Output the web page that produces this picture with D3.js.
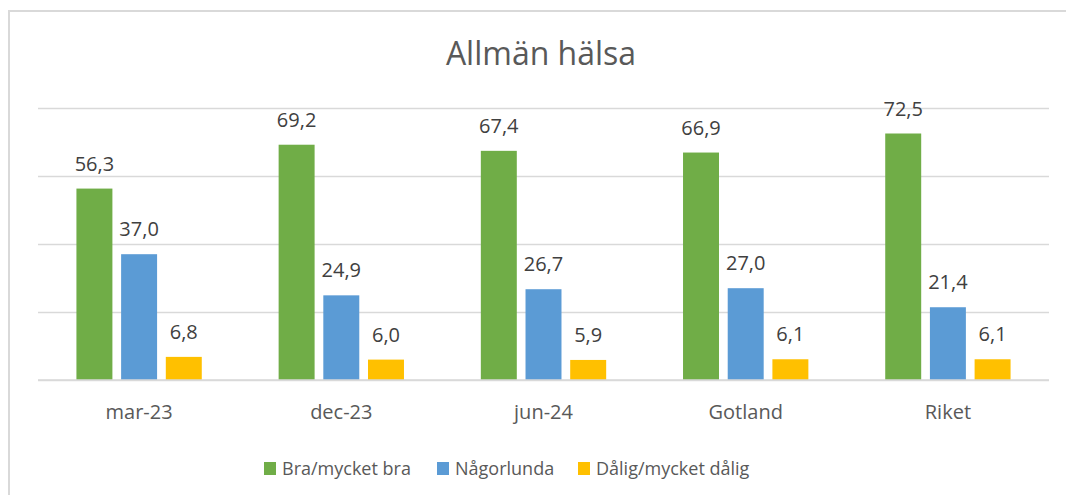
<!DOCTYPE html>
<html>
<head>
<meta charset="utf-8">
<script src="https://cdn.jsdelivr.net/npm/d3@7"></script>
<style>
  body { margin: 0; background: #fff; }
  text { font-family: "Open Sans", sans-serif; }
</style>
</head>
<body>
<div id="chart"></div>
<script>
/**
 * DATA
 * */
const categories = ["mar-23", "dec-23", "jun-24", "Gotland", "Riket"];
const seriesNames = ["Bra/mycket bra", "Någorlunda", "Dålig/mycket dålig"];
const braValues = [56.3, 69.2, 67.4, 66.9, 72.5];
const nagorlundaValues = [37.0, 24.9, 26.7, 27.0, 21.4];
const daligValues = [6.8, 6.0, 5.9, 6.1, 6.1];
const yTicks = [0, 20, 40, 60, 80];

const colors = ["#70AD47", "#5B9BD5", "#FFC000"];

/**
 * CONSTANTS
 * */
const width = 1066,
  height = 495,
  plot = { left: 38, right: 1049, top: 108, bottom: 380 };

const svg = d3
  .select("#chart")
  .append("svg")
  .attr("width", width)
  .attr("height", height);

// outer chart border (cropped on right and bottom)
svg
  .append("path")
  .attr("d", `M9,${height + 2}V11H${width + 2}`)
  .attr("fill", "none")
  .attr("stroke", "#d9d9d9")
  .attr("stroke-width", 2);

// title
svg
  .append("text")
  .attr("x", 541)
  .attr("y", 65)
  .attr("text-anchor", "middle")
  .attr("fill", "#595959")
  .style("font-size", "32px")
  .text("Allmän hälsa");

// scales
const x0 = d3
  .scaleBand()
  .domain(categories)
  .range([plot.left, plot.right])
  .padding(0);

const x1 = d3
  .scaleBand()
  .domain(seriesNames)
  .range([0, x0.bandwidth()])
  .paddingInner(0.195)
  .paddingOuter(0.86);

const y = d3
  .scaleLinear()
  .domain([0, 80])
  .range([plot.bottom, plot.top]);

const color = d3.scaleOrdinal().domain(seriesNames).range(colors);

const fmt = d3.formatLocale({ decimal: ",", thousands: " ", grouping: [3], currency: ["", ""] }).format(".1f");

// gridlines
const grid = svg
  .append("g")
  .attr("transform", `translate(${plot.left},0)`)
  .call(
    d3.axisLeft(y)
      .tickValues(yTicks)
      .tickSize(-(plot.right - plot.left))
      .tickFormat("")
  );
grid.select(".domain").remove();
grid.selectAll(".tick line").attr("stroke", "#d9d9d9").attr("stroke-width", 1.5);

// rows of data
const rows = categories.map((c, i) => ({
  category: c,
  values: [braValues[i], nagorlundaValues[i], daligValues[i]].map((v, j) => ({
    series: seriesNames[j],
    value: v
  }))
}));

const group = svg
  .selectAll("g.group")
  .data(rows)
  .join("g")
  .attr("class", "group")
  .attr("transform", d => `translate(${x0(d.category)},0)`);

group
  .selectAll("rect")
  .data(d => d.values)
  .join("rect")
  .attr("x", d => x1(d.series))
  .attr("y", d => y(d.value))
  .attr("width", x1.bandwidth())
  .attr("height", d => y(0) - y(d.value))
  .attr("fill", d => color(d.series));

group
  .selectAll("text.label")
  .data(d => d.values)
  .join("text")
  .attr("class", "label")
  .attr("x", d => x1(d.series) + x1.bandwidth() / 2)
  .attr("y", d => y(d.value) - 18)
  .attr("text-anchor", "middle")
  .attr("fill", "#404040")
  .style("font-size", "20px")
  .text(d => fmt(d.value));

// baseline
svg
  .append("line")
  .attr("x1", plot.left)
  .attr("x2", plot.right)
  .attr("y1", y(0))
  .attr("y2", y(0))
  .attr("stroke", "#d9d9d9")
  .attr("stroke-width", 1.5);

// x axis labels
const xAxis = svg
  .append("g")
  .attr("transform", `translate(0,${plot.bottom})`)
  .call(d3.axisBottom(x0).tickSize(0).tickPadding(0));
xAxis.select(".domain").remove();
xAxis
  .selectAll("text")
  .attr("dy", null)
  .attr("y", 39)
  .attr("fill", "#595959")
  .style("font-size", "20px")
  .style("font-family", "'Open Sans', sans-serif");

// legend
const legendX = [264, 437, 578];
const legend = svg
  .selectAll("g.legend")
  .data(seriesNames)
  .join("g")
  .attr("class", "legend")
  .attr("transform", (d, i) => `translate(${legendX[i]},462)`);

legend
  .append("rect")
  .attr("width", 12)
  .attr("height", 13)
  .attr("fill", d => color(d));

legend
  .append("text")
  .attr("x", 18)
  .attr("y", 13)
  .attr("fill", "#595959")
  .style("font-size", "18px")
  .text(d => d);
</script>
</body>
</html>
